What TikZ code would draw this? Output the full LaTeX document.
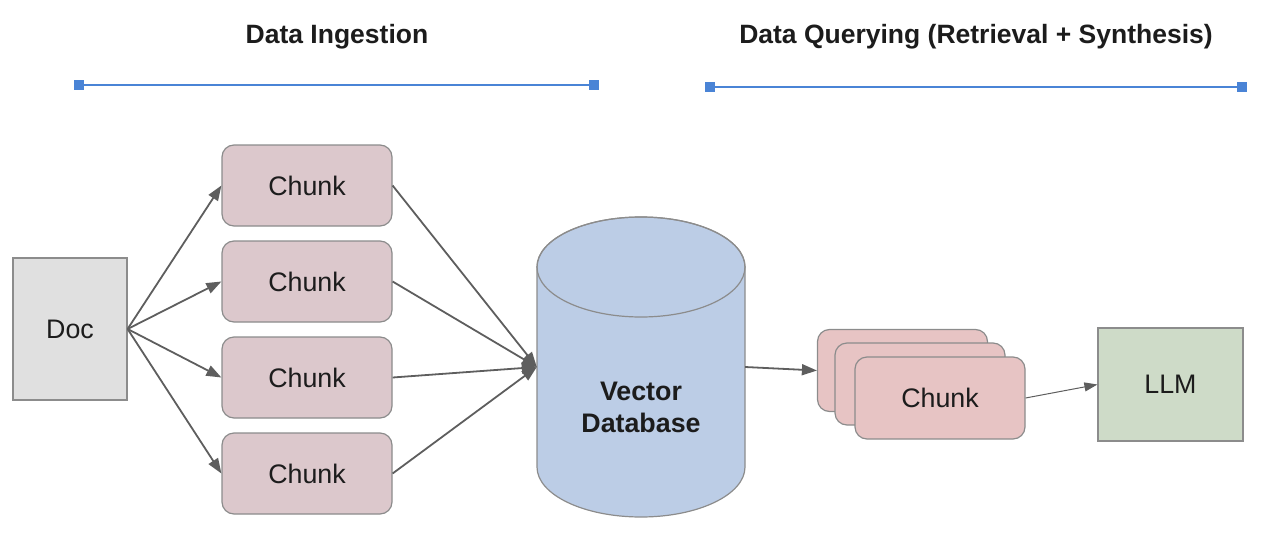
\documentclass[tikz,border=0pt]{standalone}
\usepackage{fontspec}
\setmainfont{Liberation Sans}
\usetikzlibrary{arrows.meta}
\definecolor{bl}{HTML}{4A84D6}
\definecolor{docfill}{HTML}{E0E0E0}
\definecolor{chfill}{HTML}{DCC8CC}
\definecolor{stfill}{HTML}{E7C4C4}
\definecolor{dbfill}{HTML}{BCCDE6}
\definecolor{llmfill}{HTML}{CEDBC8}
\definecolor{edge}{HTML}{8C8C8C}
\definecolor{arr}{HTML}{5E5E5E}
\definecolor{txt}{HTML}{1C1C1C}
\tikzset{
  boxbase/.style={draw=edge, line width=1.2pt, text=txt, font=\fontsize{26.8}{32}\selectfont, inner sep=0pt},
  docbox/.style={boxbase, fill=docfill, minimum width=114pt, minimum height=142pt},
  chunkbox/.style={boxbase, fill=chfill, rounded corners=12pt, minimum width=170pt, minimum height=81pt},
  stackbox/.style={boxbase, fill=stfill, rounded corners=12pt, minimum width=170pt, minimum height=82pt},
  llmbox/.style={boxbase, fill=llmfill, minimum width=145pt, minimum height=113pt},
  conn/.style={draw=arr, line width=1.8pt, -{Triangle[length=15pt,width=11pt]}},
  thinconn/.style={draw=arr, line width=1pt, -{Triangle[length=13pt,width=9pt]}},
  title/.style={text=txt, font=\fontsize{26.5}{32}\selectfont\bfseries},
  rangeline/.style={draw=bl, line width=2pt, {Square[length=10pt,width=10pt]}-{Square[length=10pt,width=10pt]}}
}
\begin{document}
\begin{tikzpicture}[x=1pt,y=-1pt]
\useasboundingbox (0,0) rectangle (1262,541);
% titles and range lines
\node[title] (t1) at (337,37) {Data Ingestion};
\node[title] (t2) at (976,37) {Data Querying (Retrieval + Synthesis)};
\coordinate (l1a) at (74,85); \coordinate (l1b) at (599,85);
\coordinate (l2a) at (705,87); \coordinate (l2b) at (1247,87);
\draw[rangeline] (l1a) -- (l1b);
\draw[rangeline] (l2a) -- (l2b);
% doc
\node[docbox] (doc) at (70,329) {Doc};
% chunks
\node[chunkbox] (c1) at (307,185.5) {Chunk};
\node[chunkbox] (c2) at (307,281.5) {Chunk};
\node[chunkbox] (c3) at (307,377.5) {Chunk};
\node[chunkbox] (c4) at (307,473.5) {Chunk};
% database cylinder
\filldraw[fill=dbfill, draw=edge, line width=1.2pt]
  (537,267) -- (537,467) arc[start angle=180, end angle=360, x radius=104pt, y radius=50pt]
  -- (745,267) arc[start angle=0, end angle=180, x radius=104pt, y radius=50pt] -- cycle;
\draw[draw=edge, line width=1.2pt] (641,267) ellipse[x radius=104pt, y radius=50pt];
\node[minimum width=208pt, minimum height=300pt, inner sep=0pt] (db) at (641,367) {};
\node[text=txt, font=\fontsize{26.8}{32}\selectfont\bfseries, align=center] (dbl) at (641,407) {Vector\\Database};
% stacked chunks
\node[stackbox] (s1) at (902.5,370.5) {};
\node[stackbox] (s2) at (920,384) {};
\node[stackbox] (s3) at (940,398) {Chunk};
% llm
\node[llmbox] (llm) at (1170.5,384.5) {LLM};
% connectors
\foreach \c in {c1,c2,c3,c4} {
  \draw[conn] (doc.east) -- (\c.west);
  \draw[conn] (\c.east) -- (db.west);
}
\draw[conn] (db.east) -- (s1.west);
\draw[thinconn] (s3.east) -- (llm.west);
\end{tikzpicture}
\end{document}
